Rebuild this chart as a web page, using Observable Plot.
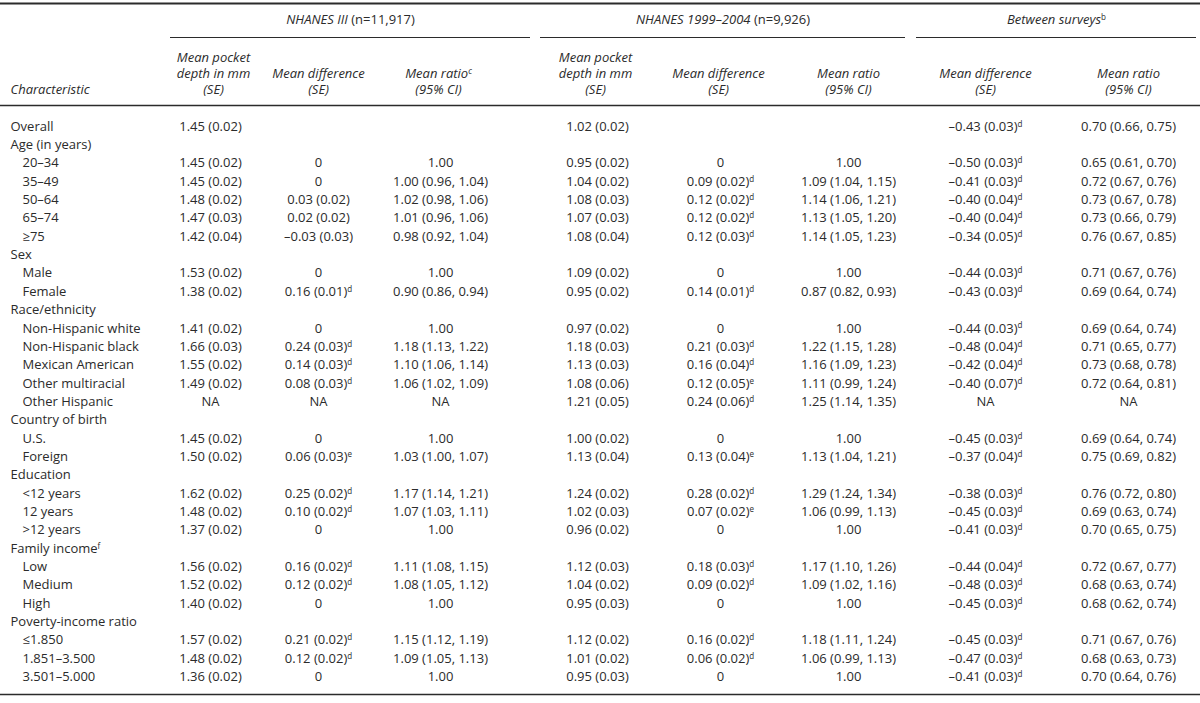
<!DOCTYPE html>
<html>
<head>
<meta charset="utf-8">
<script src="https://cdn.jsdelivr.net/npm/d3@7"></script>
<script src="https://cdn.jsdelivr.net/npm/@observablehq/plot@0.6"></script>
<style>
  html, body { margin: 0; padding: 0; background: #fff; }
  #chart { width: 1200px; height: 703px; }
</style>
</head>
<body>
<div id="chart"></div>
<script>
// ---------- DATA ----------
const rowLabels = [
  "Overall", "Age (in years)", "20–34", "35–49", "50–64", "65–74", "≥75",
  "Sex", "Male", "Female",
  "Race/ethnicity", "Non-Hispanic white", "Non-Hispanic black", "Mexican American", "Other multiracial", "Other Hispanic",
  "Country of birth", "U.S.", "Foreign",
  "Education", "<12 years", "12 years", ">12 years",
  "Family income^f", "Low", "Medium", "High",
  "Poverty-income ratio", "≤1.850", "1.851–3.500", "3.501–5.000"
];
// rows printed flush left (section headings); others are indented
const sectionRows = ["Overall", "Age (in years)", "Sex", "Race/ethnicity", "Country of birth", "Education", "Family income^f", "Poverty-income ratio"];

const nh3Depth = ["1.45 (0.02)", "", "1.45 (0.02)", "1.45 (0.02)", "1.48 (0.02)", "1.47 (0.03)", "1.42 (0.04)",
  "", "1.53 (0.02)", "1.38 (0.02)",
  "", "1.41 (0.02)", "1.66 (0.03)", "1.55 (0.02)", "1.49 (0.02)", "NA",
  "", "1.45 (0.02)", "1.50 (0.02)",
  "", "1.62 (0.02)", "1.48 (0.02)", "1.37 (0.02)",
  "", "1.56 (0.02)", "1.52 (0.02)", "1.40 (0.02)",
  "", "1.57 (0.02)", "1.48 (0.02)", "1.36 (0.02)"];
const nh3Diff = ["", "", "0", "0", "0.03 (0.02)", "0.02 (0.02)", "–0.03 (0.03)",
  "", "0", "0.16 (0.01)^d",
  "", "0", "0.24 (0.03)^d", "0.14 (0.03)^d", "0.08 (0.03)^d", "NA",
  "", "0", "0.06 (0.03)^e",
  "", "0.25 (0.02)^d", "0.10 (0.02)^d", "0",
  "", "0.16 (0.02)^d", "0.12 (0.02)^d", "0",
  "", "0.21 (0.02)^d", "0.12 (0.02)^d", "0"];
const nh3Ratio = ["", "", "1.00", "1.00 (0.96, 1.04)", "1.02 (0.98, 1.06)", "1.01 (0.96, 1.06)", "0.98 (0.92, 1.04)",
  "", "1.00", "0.90 (0.86, 0.94)",
  "", "1.00", "1.18 (1.13, 1.22)", "1.10 (1.06, 1.14)", "1.06 (1.02, 1.09)", "NA",
  "", "1.00", "1.03 (1.00, 1.07)",
  "", "1.17 (1.14, 1.21)", "1.07 (1.03, 1.11)", "1.00",
  "", "1.11 (1.08, 1.15)", "1.08 (1.05, 1.12)", "1.00",
  "", "1.15 (1.12, 1.19)", "1.09 (1.05, 1.13)", "1.00"];
const nh99Depth = ["1.02 (0.02)", "", "0.95 (0.02)", "1.04 (0.02)", "1.08 (0.03)", "1.07 (0.03)", "1.08 (0.04)",
  "", "1.09 (0.02)", "0.95 (0.02)",
  "", "0.97 (0.02)", "1.18 (0.03)", "1.13 (0.03)", "1.08 (0.06)", "1.21 (0.05)",
  "", "1.00 (0.02)", "1.13 (0.04)",
  "", "1.24 (0.02)", "1.02 (0.03)", "0.96 (0.02)",
  "", "1.12 (0.03)", "1.04 (0.02)", "0.95 (0.03)",
  "", "1.12 (0.02)", "1.01 (0.02)", "0.95 (0.03)"];
const nh99Diff = ["", "", "0", "0.09 (0.02)^d", "0.12 (0.02)^d", "0.12 (0.02)^d", "0.12 (0.03)^d",
  "", "0", "0.14 (0.01)^d",
  "", "0", "0.21 (0.03)^d", "0.16 (0.04)^d", "0.12 (0.05)^e", "0.24 (0.06)^d",
  "", "0", "0.13 (0.04)^e",
  "", "0.28 (0.02)^d", "0.07 (0.02)^e", "0",
  "", "0.18 (0.03)^d", "0.09 (0.02)^d", "0",
  "", "0.16 (0.02)^d", "0.06 (0.02)^d", "0"];
const nh99Ratio = ["", "", "1.00", "1.09 (1.04, 1.15)", "1.14 (1.06, 1.21)", "1.13 (1.05, 1.20)", "1.14 (1.05, 1.23)",
  "", "1.00", "0.87 (0.82, 0.93)",
  "", "1.00", "1.22 (1.15, 1.28)", "1.16 (1.09, 1.23)", "1.11 (0.99, 1.24)", "1.25 (1.14, 1.35)",
  "", "1.00", "1.13 (1.04, 1.21)",
  "", "1.29 (1.24, 1.34)", "1.06 (0.99, 1.13)", "1.00",
  "", "1.17 (1.10, 1.26)", "1.09 (1.02, 1.16)", "1.00",
  "", "1.18 (1.11, 1.24)", "1.06 (0.99, 1.13)", "1.00"];
const betweenDiff = ["–0.43 (0.03)^d", "", "–0.50 (0.03)^d", "–0.41 (0.03)^d", "–0.40 (0.04)^d", "–0.40 (0.04)^d", "–0.34 (0.05)^d",
  "", "–0.44 (0.03)^d", "–0.43 (0.03)^d",
  "", "–0.44 (0.03)^d", "–0.48 (0.04)^d", "–0.42 (0.04)^d", "–0.40 (0.07)^d", "NA",
  "", "–0.45 (0.03)^d", "–0.37 (0.04)^d",
  "", "–0.38 (0.03)^d", "–0.45 (0.03)^d", "–0.41 (0.03)^d",
  "", "–0.44 (0.04)^d", "–0.48 (0.03)^d", "–0.45 (0.03)^d",
  "", "–0.45 (0.03)^d", "–0.47 (0.03)^d", "–0.41 (0.03)^d"];
const betweenRatio = ["0.70 (0.66, 0.75)", "", "0.65 (0.61, 0.70)", "0.72 (0.67, 0.76)", "0.73 (0.67, 0.78)", "0.73 (0.66, 0.79)", "0.76 (0.67, 0.85)",
  "", "0.71 (0.67, 0.76)", "0.69 (0.64, 0.74)",
  "", "0.69 (0.64, 0.74)", "0.71 (0.65, 0.77)", "0.73 (0.68, 0.78)", "0.72 (0.64, 0.81)", "NA",
  "", "0.69 (0.64, 0.74)", "0.75 (0.69, 0.82)",
  "", "0.76 (0.72, 0.80)", "0.69 (0.63, 0.74)", "0.70 (0.65, 0.75)",
  "", "0.72 (0.67, 0.77)", "0.68 (0.63, 0.74)", "0.68 (0.62, 0.74)",
  "", "0.71 (0.67, 0.76)", "0.68 (0.63, 0.73)", "0.70 (0.64, 0.76)"];

const groupTitles = ["_NHANES III_ (n=11,917)", "_NHANES 1999–2004_ (n=9,926)", "_Between surveys_^b"];
const columnHeaders = [
  ["Mean pocket", "depth in mm", "(SE)"],
  ["", "Mean difference", "(SE)"],
  ["", "Mean ratio^c", "(95% CI)"],
  ["Mean pocket", "depth in mm", "(SE)"],
  ["", "Mean difference", "(SE)"],
  ["", "Mean ratio", "(95% CI)"],
  ["", "Mean difference", "(SE)"],
  ["", "Mean ratio", "(95% CI)"]
];
const stubHeader = "Characteristic";

// ---------- LAYOUT ----------
const layout = {
  colX: [210, 318, 440, 597, 720, 848, 985, 1128],
  headerX: [213, 318, 438, 595, 718, 848, 985, 1128],
  groupSpans: [[170, 530], [540, 905], [916, 1196]],
  stubX: 10, indentX: 22,
  topRuleY: 3, groupTitleY: 19, groupRuleY: 37,
  headerLineY: [57, 73, 89], headerRuleY: 105,
  firstRowY: 126, rowStep: 18.35, bottomRuleY: 694
};
const columns = [nh3Depth, nh3Diff, nh3Ratio, nh99Depth, nh99Diff, nh99Ratio, betweenDiff, betweenRatio];

// ---------- BUILD TABLES FOR MARKS ----------
const rowY = i => layout.firstRowY + i * layout.rowStep;
const cells = [];
columns.forEach((vals, c) => vals.forEach((t, i) => { if (t) cells.push({x: layout.colX[c], y: rowY(i), t}); }));
const stubs = rowLabels.map((t, i) => ({x: sectionRows.includes(t) ? layout.stubX : layout.indentX, y: rowY(i), t}));
const headers = [];
columnHeaders.forEach((lines, c) => lines.forEach((t, k) => { if (t) headers.push({x: layout.headerX[c], y: layout.headerLineY[k], t}); }));
const groups = groupTitles.map((t, g) => ({x: (layout.groupSpans[g][0] + layout.groupSpans[g][1]) / 2, y: layout.groupTitleY, t, x1: layout.groupSpans[g][0], x2: layout.groupSpans[g][1]}));
const fullRules = [
  {y: layout.topRuleY, w: 1.8},
  {y: layout.headerRuleY, w: 1.4},
  {y: layout.bottomRuleY, w: 1.4}
];

const ink = "#2b2b2b";
const font = "'Open Sans', 'DejaVu Sans', sans-serif";
const fs = 13;

const svg = Plot.plot({
  width: 1200, height: 703, margin: 0,
  x: {domain: [0, 1200], range: [0, 1200], axis: null},
  y: {domain: [0, 703], range: [0, 703], axis: null},
  style: {fontFamily: font, background: "#fff", color: ink},
  marks: [
    Plot.ruleY(fullRules, {y: "y", x1: 0, x2: 1200, stroke: ink, strokeWidth: "w"}),
    Plot.ruleY(groups, {y: layout.groupRuleY, x1: "x1", x2: "x2", stroke: ink, strokeWidth: 1.1}),
    Plot.text(groups, {x: "x", y: "y", text: "t", fill: ink, fontSize: fs, textAnchor: "middle"}),
    Plot.text(headers, {x: "x", y: "y", text: "t", fill: ink, fontSize: fs, fontStyle: "italic", textAnchor: "middle"}),
    Plot.text([{x: layout.stubX, y: layout.headerLineY[2], t: stubHeader}], {x: "x", y: "y", text: "t", fill: ink, fontSize: fs, fontStyle: "italic", textAnchor: "start"}),
    Plot.text(stubs, {x: "x", y: "y", text: "t", fill: ink, fontSize: fs, textAnchor: "start"}),
    Plot.text(cells, {x: "x", y: "y", text: "t", fill: ink, fontSize: fs, textAnchor: "middle"})
  ]
});

// Render "_italic_" segments and "^x" footnote superscripts as tspans
d3.select(svg).selectAll("text").each(function () {
  const s = this.textContent;
  if (!/[\^_]/.test(s)) return;
  const parts = s.match(/_[^_]+_|\^[a-z]|[^_^]+/g);
  this.textContent = "";
  const sel = d3.select(this);
  parts.forEach(p => {
    if (p.startsWith("_")) sel.append("tspan").attr("font-style", "italic").text(p.slice(1, -1));
    else if (p.startsWith("^")) sel.append("tspan").attr("font-size", "0.62em").attr("dy", "-0.5em").text(p.slice(1));
    else sel.append("tspan").text(p);
  });
});

document.getElementById("chart").appendChild(svg);
</script>
</body>
</html>
